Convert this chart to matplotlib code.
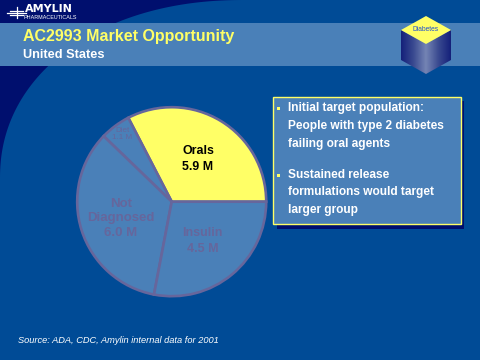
import numpy as np
import matplotlib
matplotlib.use("Agg")
import matplotlib.pyplot as plt
from matplotlib.patches import Polygon, Rectangle

# Data
categories = ["Orals", "Diet", "Not\nDiagnosed", "Insulin"]
labelled_millions = ["5.9 M", "1.1 M", "6.0 M", "4.5 M"]
wedge_shares = [32.6, 5.2, 34.2, 28.0]
wedge_colors = ["#FFFF66", "#4A80B8", "#4A80B8", "#4A80B8"]
label_colors = ["#000000", "#66669C", "#66669C", "#66669C"]
label_weights = ["bold", "normal", "bold", "bold"]
label_sizes = [8.9, 5.8, 9.5, 9.0]
label_spacing = [1.45, 1.05, 1.25, 1.4]

title = "AC2993 Market Opportunity"
subtitle = "United States"
source = "Source: ADA, CDC, Amylin internal data for 2001"
bullets = [["Initial target population:", "People with type 2 diabetes", "failing oral agents"],
           ["Sustained release", "formulations would target", "larger group"]]

BG, NAVY, BAND, YEL, EDGE = "#004B96", "#000F6E", "#4A80B8", "#FFFF66", "#66669C"
FONT = "Liberation Sans"

fig = plt.figure(figsize=(4.8, 3.6), dpi=100, facecolor=BG)
ax = fig.add_axes([0, 0, 1, 1])


def Y(y):
    return 360 - y


# backgrounds
ax.add_patch(Rectangle((0, 0), 480, 360, fc=BG, ec="none", zorder=0))
t = np.linspace(0, np.pi / 2, 120)
n = 2.12
arc_x = 243 - 243 * np.cos(t) ** (2 / n)
arc_y = 178 - 178 * np.sin(t) ** (2 / n)
corner = np.column_stack([np.r_[0, arc_x], Y(np.r_[0, arc_y])])
ax.add_patch(Polygon(corner, fc=NAVY, ec="none", zorder=1))
ax.add_patch(Rectangle((0, Y(66)), 480, 43, fc=BAND, ec="none", zorder=2))

# logo
for yy, x0, x1 in [(10.5, 10, 23), (12.5, 7, 26), (14.5, 10, 23)]:
    ax.plot([x0, x1], [Y(yy)] * 2, color="white", lw=0.9, zorder=3)
ax.plot([17, 17], [Y(7), Y(18)], color="white", lw=0.9, zorder=3)
ax.text(25, Y(8.6), "AMYLIN", color="white", family="DejaVu Sans", weight="bold", fontsize=8.0,
        ha="left", va="center", zorder=3)
ax.text(24, Y(17.4), "PHARMACEUTICALS", color="white", family=FONT, fontsize=3.9,
        ha="left", va="center", zorder=3)

# titles
ax.text(23, Y(36), title, color=YEL, family=FONT, weight="bold", fontsize=11.5,
        ha="left", va="center", zorder=3)
ax.text(23, Y(54.5), subtitle, color="white", family=FONT, weight="bold", fontsize=9.2,
        ha="left", va="center", zorder=3)

# cube
left = Polygon([(401, Y(30)), (426, Y(44)), (426, Y(74)), (401, Y(60))], transform=ax.transData)
right = Polygon([(426, Y(44)), (451, Y(30)), (451, Y(60)), (426, Y(74))], transform=ax.transData)
grad = np.abs(np.linspace(-1, 1, 256)).reshape(1, -1)
cmap = matplotlib.colors.LinearSegmentedColormap.from_list("c", ["#7484B4", "#3A4A90", "#14207A"])
for clip in (left, right):
    im = ax.imshow(grad, extent=(401, 451, Y(74), Y(30)), aspect="auto", cmap=cmap, zorder=3)
    ax.add_patch(clip)
    clip.set_visible(False)
    im.set_clip_path(clip)
ax.add_patch(Polygon([(426, Y(16)), (451, Y(30)), (426, Y(44)), (401, Y(30))], fc=YEL, ec="none", zorder=4))
ax.text(426, Y(29.5), "Diabetes", color="#2050D0", family=FONT, fontsize=4.8, ha="center", va="center", zorder=5)

# pie
cx, cy, r = 171.7, Y(201.7), 94.5
ax.pie(wedge_shares, colors=wedge_colors, center=(cx, cy), radius=r, startangle=0,
       counterclock=True, wedgeprops=dict(edgecolor=EDGE, linewidth=1.9, zorder=6))
ax.set_xlim(0, 480)
ax.set_ylim(0, 360)
ax.set_aspect("auto")
ax.axis("off")

positions = [(198, 159), (122, 134), (121, 218.5), (202.5, 241)]
for cat, val, col, w, fs, ls, (px, py) in zip(categories, labelled_millions, label_colors,
                                              label_weights, label_sizes, label_spacing, positions):
    ax.text(px, Y(py), f"{cat}\n{val}", color=col, family=FONT, weight=w, fontsize=fs,
            ha="center", va="center", linespacing=ls, zorder=8)

# text box
ax.add_patch(Rectangle((276.5, Y(228.5)), 187.5, 127.5, fc=NAVY, ec="none", zorder=3))
ax.add_patch(Rectangle((273.3, Y(224)), 187.4, 127, fc=BAND, ec=YEL, lw=1, zorder=4))
ys = [[108.5, 125.5, 143.5], [175.5, 192.5, 210]]
for group, grp_y in zip(bullets, ys):
    ax.add_patch(Rectangle((277, Y(grp_y[0] + 1.8)), 3.4, 3.6, fc=YEL, ec="none", zorder=5))
    for line, yy in zip(group, grp_y):
        ax.text(288, Y(yy), line, color="white", family=FONT, weight="bold", fontsize=8.6,
                ha="left", va="center", zorder=5)

# source
ax.text(18, Y(340.5), source, color="white", family=FONT, style="italic", fontsize=6.7,
        ha="left", va="center", zorder=3)

fig.savefig("out.png", dpi=100, facecolor=BG)
